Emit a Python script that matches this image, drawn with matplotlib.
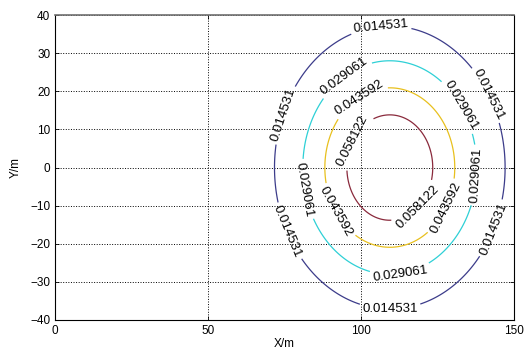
import numpy as np
import matplotlib.pyplot as plt

# field parameters (peak, centre, spread in metres)
peak = 0.072653
x0, y0 = 109.4, 0.0
sx, sy = 21.0, 20.7

levels = [0.014531, 0.029061, 0.043592, 0.058122]
colors = ['#3c3c8a', '#2ed0d6', '#e8c01e', '#8a2a3c']

# where the contour labels sit
label_pos = [(106.5, 36.9), (74.8, 13.8), (141, 19), (74.8, -17.2), (143, -16), (109.5, -37.7),
             (95, 23.5), (132, 16), (79.7, -6), (138, -2), (112.8, -27.7),
             (100, 17.7), (91, -12), (128, -10.7),
             (98.4, 6.6), (118.7, -10.4)]

x = np.linspace(0, 150, 301)
y = np.linspace(-40, 40, 161)
X, Y = np.meshgrid(x, y)
Z = peak * np.exp(-(X - x0)**2 / (2 * sx**2) - (Y - y0)**2 / (2 * sy**2))

plt.rcParams['font.family'] = ['Liberation Sans', 'DejaVu Sans']

fig = plt.figure(figsize=(5.24, 3.52), dpi=100)
ax = fig.add_axes([0.105, 0.091, 0.876, 0.866])

cs = ax.contour(X, Y, Z, levels=levels, colors=colors, linewidths=0.9)
ax.clabel(cs, fmt='%g', fontsize=9.5, inline=True, inline_spacing=3,
          manual=label_pos, colors='black')

ax.set_xlim(0, 150)
ax.set_ylim(-40, 40)
ax.set_xticks([0, 50, 100, 150])
ax.set_yticks(range(-40, 41, 10))
ax.grid(True, linestyle=':', color='black', linewidth=0.7)
ax.tick_params(direction='in', labelsize=8.5, length=3, width=0.6,
               top=True, right=True)
ax.spines['top'].set_color('#707070')
ax.spines['top'].set_linewidth(1.2)
for side in ['left', 'bottom', 'right']:
    ax.spines[side].set_linewidth(0.8)

ax.set_xlabel('X/m', fontsize=8.5, labelpad=1)
ax.set_ylabel('Y/m', fontsize=8.5, labelpad=6)

fig.savefig('out.png', dpi=100)
